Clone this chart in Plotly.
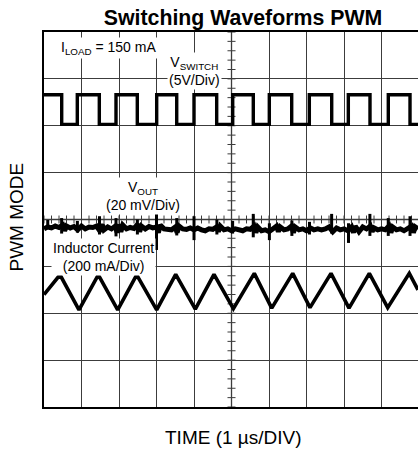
import plotly.graph_objects as go

# ---------------- data (time in µs = divisions, values in divisions) -------------
# V_SWITCH square wave: edge times and level after each edge
sw_time = [0.0, 0.472, 0.888, 1.475, 1.92, 2.488, 3.005, 3.539, 4.0, 4.605, 5.032,
           5.581, 6.008, 6.605, 7.075, 7.672, 8.115, 8.693, 9.181, 9.76, 9.973]
sw_level = [6.66, 6.03, 6.66, 6.03, 6.66, 6.03, 6.66, 6.03, 6.66, 6.03, 6.66,
            6.03, 6.66, 6.03, 6.66, 6.03, 6.66, 6.03, 6.66, 6.03, 6.03]

# Inductor current triangle: vertices
il_time = [0.0, 0.427, 0.933, 1.448, 1.965, 2.472, 3.005, 3.512, 4.035, 4.533, 5.05,
           5.608, 6.072, 6.632, 7.093, 7.653, 8.133, 8.675, 9.165, 9.741, 9.973]
il_level = [2.40, 2.82, 2.07, 2.82, 2.07, 2.82, 2.07, 2.83, 2.09, 2.83, 2.10,
            2.85, 2.11, 2.85, 2.12, 2.85, 2.11, 2.85, 2.12, 2.85, 2.50]

# V_OUT ripple baseline
vout_time = [0.00, 0.10, 0.20, 0.30, 0.40, 0.50, 0.55, 0.60, 0.70, 0.80, 0.90, 1.00,
             1.10, 1.20, 1.30, 1.40, 1.50, 1.55, 1.60, 1.70, 1.80, 1.90, 1.95, 2.00,
             2.05, 2.10, 2.20, 2.30, 2.40, 2.50, 2.55, 2.60, 2.70, 2.80, 2.90, 3.00,
             3.05, 3.10, 3.20, 3.30, 3.40, 3.50, 3.55, 3.60, 3.70, 3.80, 3.90, 4.00,
             4.10, 4.20, 4.30, 4.40, 4.50, 4.60, 4.65, 4.70, 4.80, 4.90, 5.00, 5.10,
             5.20, 5.30, 5.40, 5.50, 5.60, 5.65, 5.70, 5.80, 5.90, 6.00, 6.10, 6.20,
             6.25, 6.30, 6.40, 6.50, 6.60, 6.65, 6.70, 6.80, 6.90, 7.00, 7.10, 7.20,
             7.30, 7.40, 7.50, 7.60, 7.70, 7.80, 7.90, 8.00, 8.10, 8.20, 8.25, 8.30,
             8.40, 8.50, 8.60, 8.70, 8.75, 8.80, 8.90, 9.00, 9.10, 9.20, 9.25, 9.30,
             9.40, 9.50, 9.60, 9.70, 9.80, 9.85, 9.90, 9.973]
vout_level = [3.80, 3.84, 3.82, 3.86, 3.83, 3.88, 3.76, 3.86, 3.82, 3.85, 3.78, 3.86,
              3.80, 3.84, 3.83, 3.86, 3.74, 3.90, 3.78, 3.84, 3.80, 3.86, 3.72, 3.90,
              3.74, 3.88, 3.80, 3.83, 3.81, 3.90, 3.74, 3.86, 3.80, 3.85, 3.82, 3.84,
              3.72, 3.88, 3.80, 3.80, 3.78, 3.84, 3.72, 3.86, 3.80, 3.79, 3.82, 3.78,
              3.82, 3.78, 3.76, 3.80, 3.79, 3.84, 3.74, 3.86, 3.78, 3.80, 3.76, 3.80,
              3.78, 3.76, 3.80, 3.79, 3.86, 3.72, 3.84, 3.76, 3.78, 3.74, 3.80, 3.86,
              3.74, 3.84, 3.78, 3.80, 3.86, 3.72, 3.84, 3.78, 3.80, 3.76, 3.82, 3.78,
              3.80, 3.78, 3.80, 3.84, 3.74, 3.82, 3.78, 3.80, 3.76, 3.84, 3.72, 3.86,
              3.74, 3.84, 3.80, 3.86, 3.74, 3.82, 3.78, 3.80, 3.78, 3.86, 3.72, 3.84,
              3.78, 3.80, 3.76, 3.82, 3.86, 3.72, 3.84, 3.80]

# V_OUT switching spikes: time, top, bottom
spike_time = [0.10, 0.47, 0.89, 1.48, 1.92, 2.49, 3.00, 3.54, 4.00, 4.61,
              5.03, 5.58, 6.01, 6.61, 7.08, 7.67, 8.12, 8.69, 9.18, 9.76]
spike_top = [3.99, 4.03, 3.97, 4.07, 4.03, 4.00, 4.12, 4.03, 4.07, 4.00,
             3.97, 4.12, 3.92, 3.98, 3.95, 4.12, 3.92, 4.12, 4.03, 4.07]
spike_bottom = [3.80, 3.70, 3.72, 3.68, 3.64, 3.68, 3.35, 3.66, 3.56, 3.68,
                3.70, 3.62, 3.56, 3.65, 3.68, 3.70, 3.50, 3.65, 3.65, 3.65]

X_DIVS = 10
Y_DIVS = 8
X_SHOWN = 9.973

FONT = "Liberation Sans, Arial, Helvetica, sans-serif"
GRID = "#3c3c3c"

fig = go.Figure()

# graticule minor ticks on the centre lines
tx, ty = [], []
for k in range(X_DIVS * 5 + 1):
    t = k * 0.2
    tx += [t, t, None]
    ty += [Y_DIVS / 2 - 0.085, Y_DIVS / 2 + 0.085, None]
for k in range(Y_DIVS * 5 + 1):
    v = k * 0.2
    tx += [X_DIVS / 2 - 0.107, X_DIVS / 2 + 0.107, None]
    ty += [v, v, None]
fig.add_trace(go.Scatter(x=tx, y=ty, mode="lines", line=dict(color=GRID, width=1),
                         hoverinfo="skip", showlegend=False))
# centre lines
fig.add_trace(go.Scatter(x=[0, X_DIVS, None, X_DIVS / 2, X_DIVS / 2],
                         y=[Y_DIVS / 2, Y_DIVS / 2, None, 0, Y_DIVS],
                         mode="lines", line=dict(color=GRID, width=1.3),
                         hoverinfo="skip", showlegend=False))

# V_SWITCH
fig.add_trace(go.Scatter(x=sw_time, y=sw_level, mode="lines",
                         line=dict(color="black", width=3.4, shape="hv"),
                         name="V_SWITCH", showlegend=False))
# Inductor current
fig.add_trace(go.Scatter(x=il_time, y=il_level, mode="lines",
                         line=dict(color="black", width=3.6),
                         name="Inductor Current", showlegend=False))
# V_OUT
fig.add_trace(go.Scatter(x=vout_time, y=vout_level, mode="lines",
                         line=dict(color="black", width=5),
                         name="V_OUT", showlegend=False))
sx, sy = [], []
for t, a, b in zip(spike_time, spike_top, spike_bottom):
    sx += [t, t, None]
    sy += [a, b, None]
fig.add_trace(go.Scatter(x=sx, y=sy, mode="lines", line=dict(color="black", width=3),
                         hoverinfo="skip", showlegend=False))

lab = dict(size=14, color="black", family=FONT)
ann = [
    dict(x=1.71, y=7.66, text="I<sub>LOAD</sub> = 150 mA"),
    dict(x=4.0, y=7.17, text="V<sub>SWITCH</sub><br>(5V/Div)"),
    dict(x=2.65, y=4.50, text="V<sub>OUT</sub><br>(20 mV/Div)"),
    dict(x=1.58, y=3.21, text="Inductor Current<br>(200 mA/Div)"),
]
for a in ann:
    fig.add_annotation(x=a["x"], y=a["y"], xref="x", yref="y", text=a["text"],
                       showarrow=False, bgcolor="white", font=lab,
                       xanchor="center", yanchor="middle", borderpad=1)

fig.add_annotation(x=(233.5 - 44) / 374, y=-(437 - 407) / 375, xref="paper", yref="paper",
                   text="TIME (1 \u00b5s/DIV)", showarrow=False,
                   font=dict(size=19, color="black", family=FONT),
                   xanchor="center", yanchor="middle")
fig.add_annotation(x=(16 - 44) / 374, y=(407 - 217.5) / 375, xref="paper", yref="paper",
                   text="PWM MODE", showarrow=False, textangle=-90,
                   font=dict(size=19, color="black", family=FONT),
                   xanchor="center", yanchor="middle")

fig.update_layout(
    width=418, height=451,
    margin=dict(l=44, r=0, t=32, b=44),
    paper_bgcolor="white", plot_bgcolor="white",
    title=dict(text="<b>Switching Waveforms PWM</b>", x=243 / 418, xanchor="center",
               xref="container", y=1 - 18 / 451, yanchor="middle", yref="container",
               font=dict(size=21.3, color="black", family=FONT)),
    xaxis=dict(range=[0, X_SHOWN], dtick=1, tick0=0, showgrid=True, gridcolor=GRID,
               gridwidth=1, zeroline=False, showticklabels=False, ticks="",
               showline=True, linecolor="black", linewidth=2, mirror=True,
               fixedrange=True),
    yaxis=dict(range=[0, Y_DIVS], dtick=1, tick0=0, showgrid=True, gridcolor=GRID,
               gridwidth=1, zeroline=False, showticklabels=False, ticks="",
               showline=True, linecolor="black", linewidth=2, mirror=False,
               fixedrange=True),
    showlegend=False,
)

fig.write_html(
    "out.html",
    config={"displayModeBar": False},
    post_script="document.body.style.margin='0';document.body.style.overflow='hidden';",
)
